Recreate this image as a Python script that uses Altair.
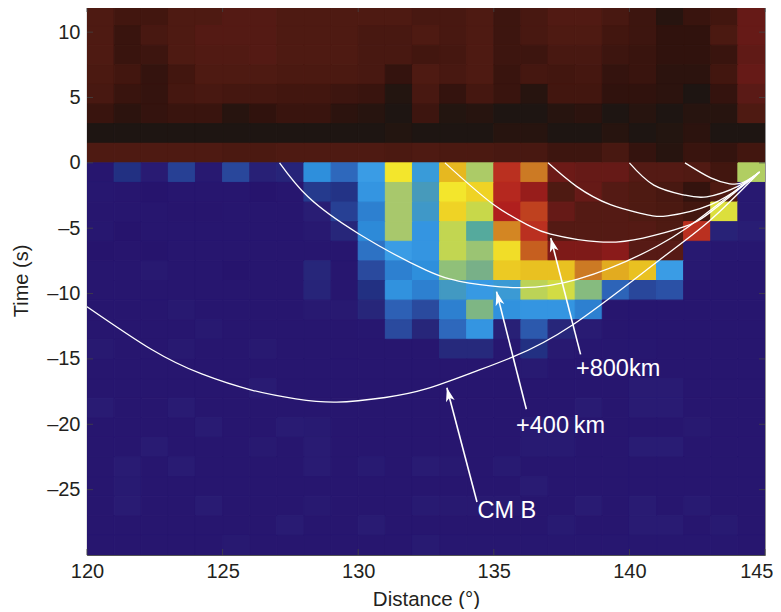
import altair as alt
import pandas as pd

X_START = 120
Y_TOP = 12
CELL_Y = 1.5

r_p8 = [94,96,96,94,94,93,93,94,94,94,94,94,95,95,94,96.5,95,93.5,93.5,95,96.5,99,97,96,91]
r_p7 = [94,97,95,94,93,93,93,94,94,94,95,95,94,95,94,96.5,95,94,94,96,96.5,98,98,94.5,91]
r_p6 = [94,97,96.5,94,93.5,93.5,93,94,94,94,95,95,96,95.5,94,96.5,96.5,95,95,96.5,97,98,98,97,91.5]
r_p5 = [94.5,96,97.5,96,94,94,94,94.5,94.5,94.5,95,97.5,94,95,94,97,95.5,96,95.5,97.5,97,98.5,98.5,96,91]
r_p4 = [95,97,97.5,95.5,95,95.5,95.5,96,96,96.5,97,99.5,95,97.5,95.5,97,99,96,96,98,98,98.5,100,97.5,92]
r_p3 = [97,98.5,97.5,97,97,99,98,97,97,98.5,99,100,96.5,99.5,99,100,100,99,98.5,100,99,100,99,99,94]
r_p2 = [100,100,100,100,100,100,100,100,100,100,100,99.5,100,100,100,99,99,100,100,99,100,99.5,98.5,100,100]
r_p1 = [94,94,94,94,94,94.5,94.5,94,94,94,94,94.5,94,94.5,94.5,95,95,96.5,96.5,95,97.5,99,97,97.5,96]
r_01 = [1,12,3,17,2,19,5,7,36,28,40,70,42,75,61,85,80,90.5,91,91,93,93,93.5,96,62]
r_02 = [1.5,1,0,1,1,1,0,1,15,13,38,60,49,70,72,86,88,94,91,93,94,95,97.5,94,2]
r_03 = [1,1,1,0.5,0.5,1,1,1,4,17,33,60,45,72,66,87,84,91,93,93,94,94.5,96,68,2]
r_04 = [1.5,0,1,1,1,1,1,1,2,8,35,60,38,65,53,79,85,93,93,93,93,94,85,6,4]
r_05 = [0,0.5,0,1,1,1,1,1,1,1,30,40,38,65,59,71,82,89,89,88.5,92.5,92.5,2,1.5,1.5]
r_06 = [1,1,2,1,1,0,1,1,8,1,20,33,36,58,55,73,74,74,80,76,74,40,2,1,1]
r_07 = [1,1,1,1,1,1,1,1,7,1,12,37,33,47,39,43,64,67,57,27,19,22,1,1,1]
r_08 = [1,1,1,2,1,1,1,1,2,2,8,26,20,33,56,37,38,38,33,1,1,1,1,1,1]
r_09 = [1,1,1,1,2,1,1,1,1,1,1.5,20,8,28,38,5,24,8,3,1,1,1,1,1,1]
r_10 = [2,1,1,2,1,1,2,1,1,1,1,1,1,9,9,1.5,12,2,1.5,1.5,1.5,1,1,1,1]
r_11 = [1,1,1,1,1,1,1,1,1,1,1,1,1,1,1,1,2.5,1,1,1,1,1,1,1,1]
r_12 = [1,1,1,1,1,1,3,1,1,1,1,1,1,1,1,1,1,1,1,1,3,3,1,1,1]
r_13 = [3,1,1,3,1,1,1,1,1,1,1,1,1,1,1,1,1,1,3,1,3,3,1,1,1]
r_14 = [1,1,1,1,3,1,1,3,2.5,1,1,1,1,1,1,1,2.5,2.5,1,1,1,1,2,1,1]
r_15 = [1,1,3,1,1,1,2,1,3,1,1,1,1,1,1,1,2.5,2.5,1,1,3.5,3.5,1,1,1]
r_16 = [1,3,1,3,1,1,1,1,3,1,2.5,1,3,2,1,2.5,1,1,1,1,1,1,1,1,1]
r_17 = [1,2.5,1,1,1,1,1,1,1,1,1,1,1,1,1,1,3,1,1,1,1,1,1,1,1]
r_18 = [1,3,1,1,3,1,1,1,2,1,1,1,2.5,2,2,2,1,1,3,1,3,1,2.5,1,1]
r_19 = [1,1,1,1,1,1,1,3,1,1,3,1,1,1,1,1,1,2.5,1,1,3,3,1,2.5,1]
r_20 = [1,1,1,1,1,2,1,1,1,1,1,1,2.5,1.5,1.5,1.5,1.5,1.5,1.5,1.5,1.5,1.5,1.5,1.5,1]
ROWS = [r_p8,r_p7,r_p6,r_p5,r_p4,r_p3,r_p2,r_p1,r_01,r_02,r_03,r_04,r_05,r_06,r_07,r_08,r_09,r_10,
        r_11,r_12,r_13,r_14,r_15,r_16,r_17,r_18,r_19,r_20]

cmap_stops = [0,1,3,8,12,20,28,36,40,45,50,55,60,66,70,75,80,85,87,89,92,94,96,98,100]
cmap_colors = ["#26146d","#27166f","#291b73","#27267a","#223082","#2a4a9e","#2e68bc","#2e8fdc","#3a9ce5",
               "#3f98c8","#4a9ab8","#78b088","#a8c86c","#c8d84a","#f3e62c","#e6b820","#cc7a24","#ba3020",
               "#b01f1e","#7e1a18","#5a1a16","#4e1a12","#42160f","#30120d","#1e1512"]

cmb_x = [120,122.4,124.23,126.1,127.7,129.2,131,132.5,134.2,135.7,137.9,141,143,144.8]
cmb_t = [-11,-14.3,-16.15,-17.4,-18.05,-18.3,-17.95,-17.3,-16.05,-14.85,-12.4,-7.6,-4.35,-0.7]
k400_x = [127.1,128.15,130,132.5,134.1,135.9,138.1,141,143,144.8]
k400_t = [0,-2.6,-5.4,-8.2,-9.2,-9.55,-8.9,-6.4,-3.6,-0.7]
k800_x = [133.2,135,136.3,137.1,138.9,140.5,142,143,144.8]
k800_t = [0,-3.2,-4.8,-5.45,-6.05,-5.75,-4.9,-3.75,-0.7]
k1200_x = [137,138.05,139.3,140.5,141.4,143,144.2,144.8]
k1200_t = [0,-1.8,-3.2,-3.9,-4.05,-3.2,-1.7,-0.7]
k1600_x = [140,140.9,142,142.85,144,144.8]
k1600_t = [0,-1.7,-2.45,-2.6,-1.8,-0.7]
k2000_x = [142.05,143,143.7,144.2,144.8]
k2000_t = [0,-1.15,-1.6,-1.5,-0.7]
CURVES = [(cmb_x,cmb_t),(k400_x,k400_t),(k800_x,k800_t),(k1200_x,k1200_t),(k1600_x,k1600_t),(k2000_x,k2000_t)]

arrow_tail_x = [134.38,136.2,138.2]
arrow_tail_t = [-25.95,-18.85,-14.65]
arrow_tip_x = [133.27,135.1,137.1]
arrow_tip_t = [-17.2,-9.85,-5.75]

label_text = ["CM B","+400\u2009km","+800km"]
label_x = [134.4,135.82,138.03]
label_t = [-26.6,-20.15,-15.8]

x_ticks = [120,125,130,135,140,145]
y_ticks = [-25,-20,-15,-10,-5,0,5,10]

cells = []
for i,row in enumerate(ROWS):
    for j,v in enumerate(row):
        cells.append(dict(x0=X_START+j,x1=X_START+j+1,y0=Y_TOP-i*CELL_Y,y1=Y_TOP-(i+1)*CELL_Y,v=v))
cells = pd.DataFrame(cells)

curve_df = pd.DataFrame([dict(c=i,order=k,x=x,t=t) for i,(xs,ts) in enumerate(CURVES) for k,(x,t) in enumerate(zip(xs,ts))])
arrows = pd.DataFrame(dict(x=arrow_tail_x,t=arrow_tail_t,x2=arrow_tip_x,t2=arrow_tip_t))
labels = pd.DataFrame(dict(text=label_text,x=label_x,t=label_t))

FONT = "Liberation Sans"
TXT = "#231f20"
xs = alt.Scale(domain=[120,145],nice=False,zero=False)
ys = alt.Scale(domain=[-30,12],nice=False,zero=False)
color_scale = alt.Scale(domain=cmap_stops,range=cmap_colors,clamp=True)

heat = alt.Chart(cells).mark_rect(strokeWidth=1,clip=True).encode(
    x=alt.X("x0:Q",scale=xs,title="Distance (\u00b0)",axis=alt.Axis(values=x_ticks,format="d",grid=False,tickSize=0,
        domainColor="#555555",labelFont=FONT,labelFontSize=20,labelColor=TXT,labelPadding=6,labelFlush=False,
        labelOverlap=False,labelBound=False,
        labelAlign=alt.condition("datum.value==145",alt.value("right"),alt.value("center")),
        labelOffset=alt.condition("datum.value==145",alt.value(8),alt.value(0)),
        titleFont=FONT,titleFontSize=20.5,titleColor=TXT,titleFontWeight="normal",titlePadding=8)),
    x2="x1:Q",
    y=alt.Y("y0:Q",scale=ys,title="Time (s)",axis=alt.Axis(values=y_ticks,grid=False,tickSize=0,
        domainColor="#555555",labelFont=FONT,labelFontSize=20,labelColor=TXT,labelPadding=7,labelFlush=False,
        labelExpr="datum.value<0 ? '\u2013'+abs(datum.value) : ''+datum.value",
        titleFont=FONT,titleFontSize=20,titleColor=TXT,titleFontWeight="normal",titlePadding=15)),
    y2="y1:Q",
    color=alt.Color("v:Q",scale=color_scale,legend=None),
    stroke=alt.Color("v:Q",scale=color_scale,legend=None),
)

curves = alt.Chart(curve_df).mark_line(color="white",strokeWidth=1.3,interpolate="natural",clip=True).encode(
    x=alt.X("x:Q",scale=xs),y=alt.Y("t:Q",scale=ys),detail="c:N",order="order:Q")

shafts = alt.Chart(arrows).mark_rule(color="white",strokeWidth=1.6).encode(
    x=alt.X("x:Q",scale=xs),y=alt.Y("t:Q",scale=ys),x2="x2:Q",y2="t2:Q")

heads = alt.Chart(arrows).mark_point(shape="M0,0 L0.5,1.55 L0,1.15 L-0.5,1.55 Z",filled=True,color="white",opacity=1,size=320,angle=345.5).encode(
    x=alt.X("x2:Q",scale=xs),y=alt.Y("t2:Q",scale=ys))

texts = alt.Chart(labels).mark_text(color="white",font=FONT,fontSize=23.5,align="left",baseline="middle").encode(
    x=alt.X("x:Q",scale=xs),y=alt.Y("t:Q",scale=ys),text="text:N")

TICK = "#444444"
bt = alt.Chart(pd.DataFrame(dict(x=x_ticks))).mark_rule(color=TICK,strokeWidth=0.8).encode(
    x=alt.X("x:Q",scale=xs),y=alt.value(549),y2=alt.value(543))
tt = alt.Chart(pd.DataFrame(dict(x=x_ticks))).mark_rule(color=TICK,strokeWidth=0.8).encode(
    x=alt.X("x:Q",scale=xs),y=alt.value(0),y2=alt.value(6))
lt = alt.Chart(pd.DataFrame(dict(t=y_ticks))).mark_rule(color=TICK,strokeWidth=0.8).encode(
    y=alt.Y("t:Q",scale=ys),x=alt.value(0),x2=alt.value(6))
rt = alt.Chart(pd.DataFrame(dict(t=y_ticks))).mark_rule(color=TICK,strokeWidth=0.8).encode(
    y=alt.Y("t:Q",scale=ys),x=alt.value(678),x2=alt.value(672))

chart = alt.layer(heat,curves,shafts,heads,texts,bt,tt,lt,rt).properties(
    width=678,height=549,
    autosize=alt.AutoSizeParams(type="none"),
    padding={"left":79,"top":-2,"right":8,"bottom":54},
).configure_view(stroke="#555555",strokeWidth=0.8)

chart.save("out.html",embed_options={"renderer":"svg","actions":False})
